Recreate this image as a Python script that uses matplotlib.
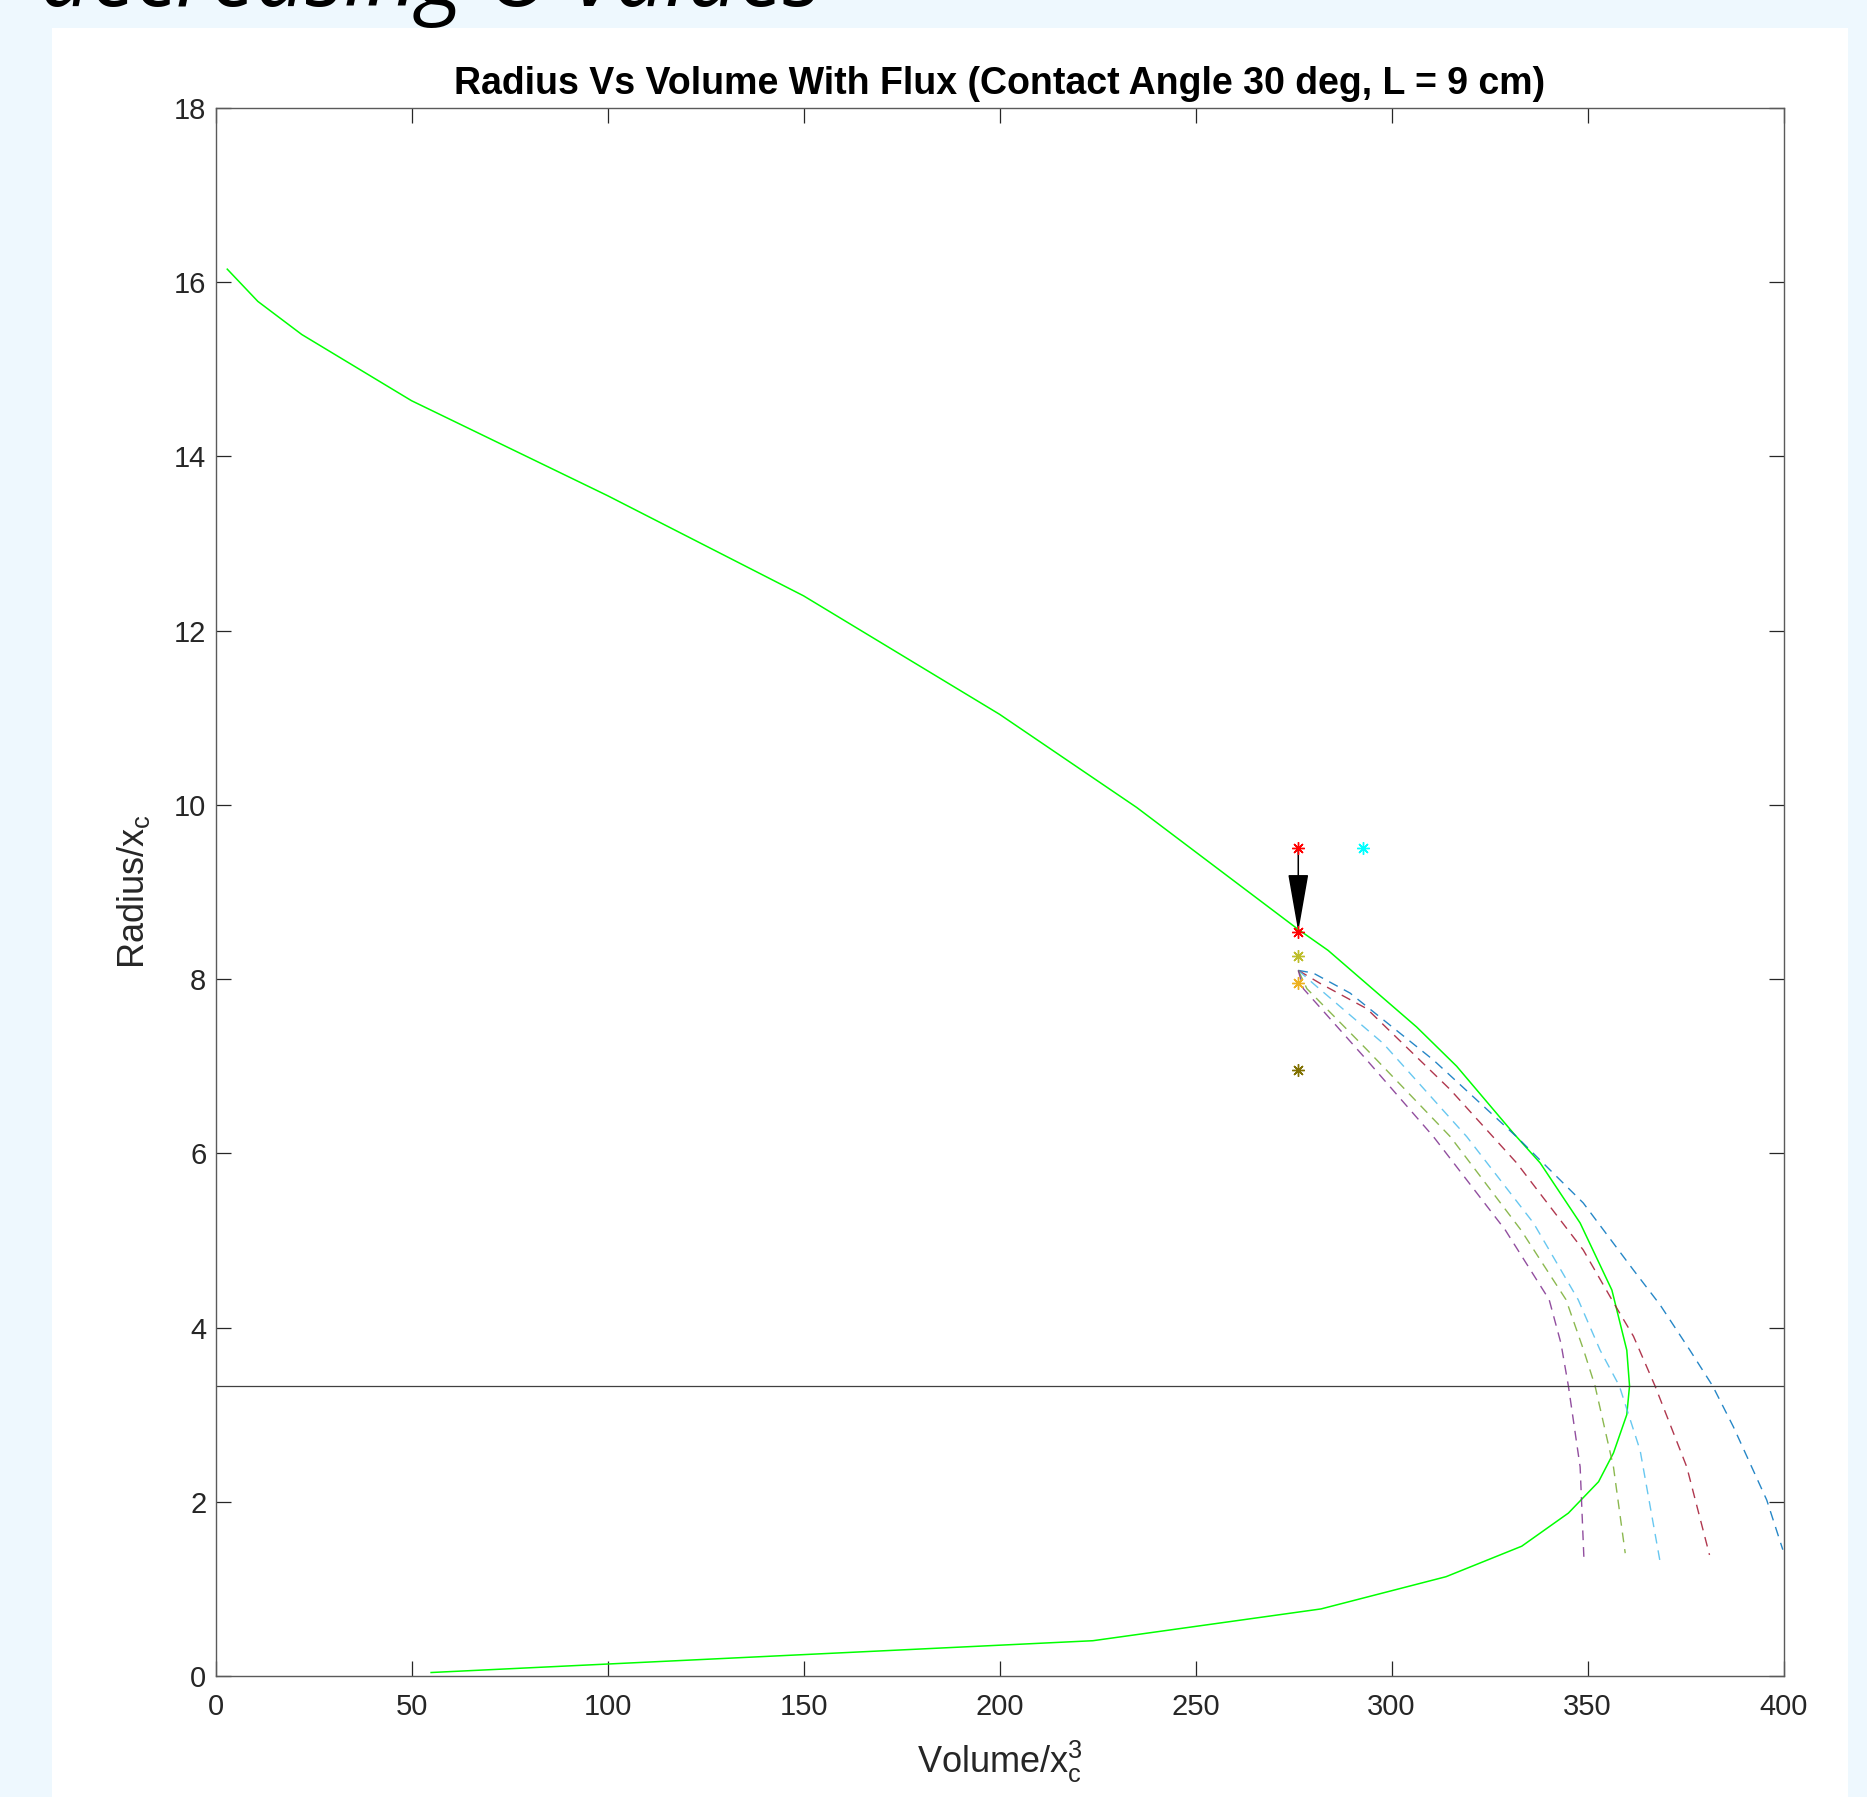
import matplotlib
matplotlib.use("Agg")
import matplotlib.pyplot as plt
from matplotlib.patches import Rectangle

plt.rcParams['font.family'] = ['Liberation Sans', 'DejaVu Sans']
plt.rcParams['lines.scale_dashes'] = False

# data <<<
# main green curve (radius vs volume)
vol_main = [3.0, 10.8, 22.0, 50, 100, 150, 200, 235, 276.2, 283.8, 306.4, 316.6,
            331.1, 337.9, 348.1, 356.2, 360.0, 360.7, 360.0, 356.6, 352.8, 345.1,
            333.2, 313.9, 282.0, 223.8, 55.0]
rad_main = [16.15, 15.78, 15.40, 14.64, 13.55, 12.40, 11.04, 9.97, 8.57, 8.33, 7.45, 7.00,
            6.23, 5.89, 5.20, 4.43, 3.74, 3.33, 3.00, 2.56, 2.23, 1.87,
            1.49, 1.14, 0.77, 0.405, 0.04]

# dashed flux curves
vol_blue = [276.2, 280.0, 289.4, 310.7, 331.9, 348.9, 361.7, 368.5, 376.1, 381.9, 387.2, 395.7, 399.8]
rad_blue = [8.10, 8.07, 7.84, 7.07, 6.19, 5.43, 4.66, 4.26, 3.74, 3.33, 2.86, 2.02, 1.45]
vol_red = [276.2, 281.8, 293.7, 315.0, 331.9, 348.9, 356.7, 361.7, 367.2, 375.3, 381.1]
rad_red = [8.10, 7.95, 7.66, 6.73, 5.89, 4.89, 4.28, 3.90, 3.33, 2.40, 1.39]
vol_lblue = [276.2, 280.0, 297.9, 319.2, 336.2, 347.6, 353.2, 358.1, 363.4, 368.5]
rad_lblue = [8.10, 7.95, 7.26, 6.19, 5.20, 4.32, 3.74, 3.33, 2.59, 1.31]
vol_green = [276.2, 278.4, 293.7, 315.0, 333.0, 344.5, 349.0, 351.9, 356.6, 359.6]
rad_green = [8.10, 7.89, 7.19, 6.19, 5.12, 4.32, 3.74, 3.33, 2.40, 1.41]
vol_purple = [276.2, 277.5, 293.7, 310.7, 329.0, 340.2, 343.2, 345.1, 348.1, 349.1]
rad_purple = [8.10, 7.89, 7.07, 6.19, 5.12, 4.32, 3.82, 3.33, 2.40, 1.31]

# star markers
mark_vol = [276.2, 292.8, 276.2, 276.2, 276.2, 276.2]
mark_rad = [9.50, 9.50, 8.545, 8.27, 7.95, 6.96]
mark_col = ['#ff0000', '#00ffff', '#ff0000', '#bdbd2a', '#edb120', '#807000']

h_line = 3.333
arrow_start = (276.2, 9.50)
arrow_end = (276.2, 8.545)
# >>>

# figure <<<
W, H = 1867, 1797
fig = plt.figure(figsize=(W / 100, H / 100), dpi=100)
fig.patch.set_facecolor('#eef8fe')
fig.patches.append(Rectangle((52 / W, 0), (1848 - 52) / W, (H - 28) / H,
                             transform=fig.transFigure, facecolor='white',
                             edgecolor='none', zorder=-5))

fig.text(40 / W, 1 - 6 / H, 'decreasing \u0398 values', family=['Open Sans', 'DejaVu Sans'],
         style='italic', fontsize=64, ha='left', va='baseline', color='black')

ax = fig.add_axes([215.5 / W, 121 / H, (1783.6 - 215.5) / W, (1676 - 108) / H])

ax.plot(vol_main, rad_main, color='#00ff00', lw=1.1)
for xs, ys, c in [(vol_blue, rad_blue, '#0072bd'), (vol_red, rad_red, '#a2142f'),
                  (vol_lblue, rad_lblue, '#4dbeee'), (vol_green, rad_green, '#77ac30'),
                  (vol_purple, rad_purple, '#7e2f8e')]:
    ax.plot(xs, ys, color=c, lw=1.0, ls=(0, (7, 5)), alpha=0.85)

ax.axhline(h_line, color='#404040', lw=0.9)

ax.annotate('', xy=arrow_end, xytext=arrow_start,
            arrowprops=dict(arrowstyle='-|>,head_length=3.7,head_width=0.65',
                            mutation_scale=10, color='black', lw=1.1,
                            shrinkA=0, shrinkB=0))

for xv, yv, c in zip(mark_vol, mark_rad, mark_col):
    ax.plot(xv, yv, marker=(8, 2, 0), markersize=9, markeredgewidth=1.0,
            color=c, ls='none', zorder=5)

ax.set_xlim(0, 400)
ax.set_ylim(0, 18)
ax.set_xticks(range(0, 401, 50))
ax.set_yticks(range(0, 19, 2))
ax.tick_params(direction='in', length=11, width=0.9, color='#262626',
               labelcolor='#262626', labelsize=21, top=True, right=True)
ax.tick_params(axis='x', pad=12)
ax.tick_params(axis='y', pad=6.5)
for s in ax.spines.values():
    s.set_color('#5a5a5a')
    s.set_linewidth(1.0)

ax.set_title('Radius Vs Volume With Flux (Contact Angle 30 deg, L = 9 cm)',
             fontsize=27, fontweight='bold', pad=10)
ax.set_xlabel(r'Volume/x$_\mathregular{c}^\mathregular{3}$', fontsize=26,
              color='#262626', labelpad=13)
ax.set_ylabel(r'Radius/x$_\mathregular{c}$', fontsize=26, color='#262626', labelpad=16)
# >>>

plt.savefig('out.png', dpi=100)
